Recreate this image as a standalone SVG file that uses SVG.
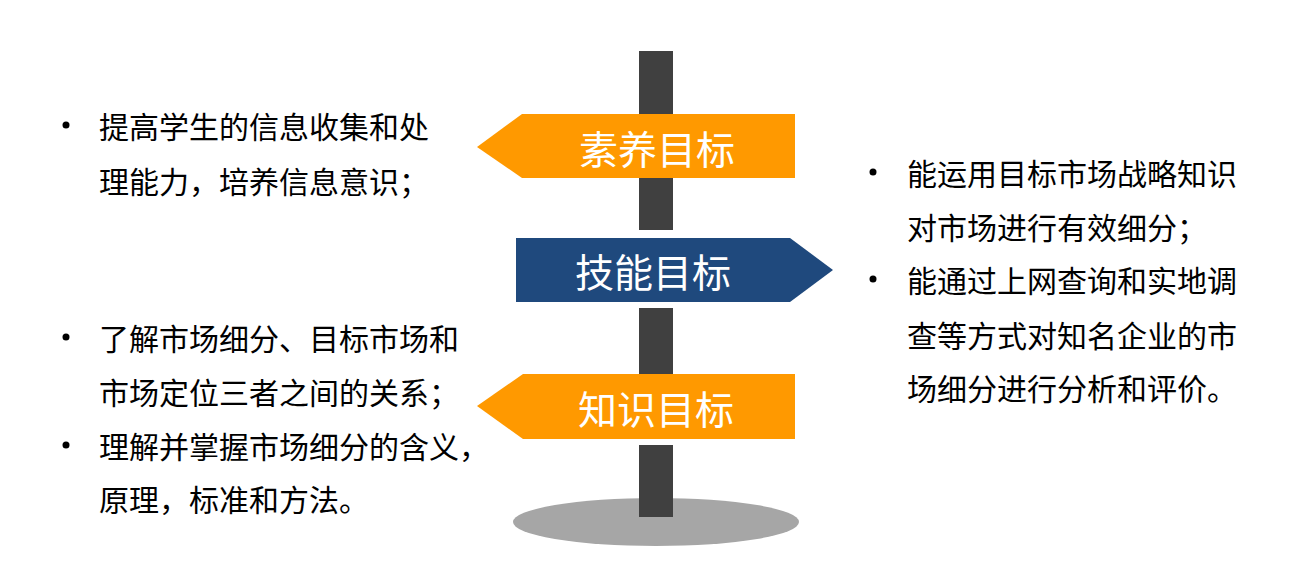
<svg xmlns="http://www.w3.org/2000/svg" width="1311" height="583" viewBox="0 0 1311 583">
<style>
.t{font-family:"Noto Sans CJK SC","Noto Sans",sans-serif;font-size:30px;fill:#000;dominant-baseline:central}
.s{font-family:"Noto Sans CJK SC","Noto Sans",sans-serif;font-size:39px;fill:#fff;dominant-baseline:central;text-anchor:middle}
.pole{fill:#404040}
.dot{fill:#000}
</style>
<rect width="1311" height="583" fill="#fff"/>
<g id="post">
<ellipse cx="656" cy="522" rx="143" ry="24" fill="#a6a6a6"/>
<rect class="pole" x="639" y="51" width="34" height="179"/>
<rect class="pole" x="639" y="308" width="34" height="66"/>
<rect class="pole" x="639" y="445" width="34" height="72"/>
</g>
<g id="sign-suyang">
<polygon points="477,147 522,114 795,114 795,178 522,178" fill="#ff9900"/>
<text class="s" x="657" y="147">素养目标</text>
</g>
<g id="sign-jineng">
<polygon points="516,238 790,238 833,270 790,302 516,302" fill="#1f497d"/>
<text class="s" x="653" y="270">技能目标</text>
</g>
<g id="sign-zhishi">
<polygon points="477,406 523,374 795,374 795,439 523,439" fill="#ff9900"/>
<text class="s" x="656" y="407">知识目标</text>
</g>
<g id="text-left">
<circle class="dot" cx="66" cy="125" r="3.5"/>
<text class="t" x="99" y="125">提高学生的信息收集和处</text>
<text class="t" x="99" y="180">理能力，培养信息意识；</text>
<circle class="dot" cx="66" cy="337" r="3.5"/>
<text class="t" x="99" y="337">了解市场细分、目标市场和</text>
<text class="t" x="99" y="391">市场定位三者之间的关系；</text>
<circle class="dot" cx="66" cy="445" r="3.5"/>
<text class="t" x="99" y="445">理解并掌握市场细分的含义，</text>
<text class="t" x="99" y="498">原理，标准和方法。</text>
</g>
<g id="text-right">
<circle class="dot" cx="873" cy="172" r="3.5"/>
<text class="t" x="907" y="172">能运用目标市场战略知识</text>
<text class="t" x="907" y="226">对市场进行有效细分；</text>
<circle class="dot" cx="873" cy="279" r="3.5"/>
<text class="t" x="907" y="279">能通过上网查询和实地调</text>
<text class="t" x="907" y="334">查等方式对知名企业的市</text>
<text class="t" x="907" y="387">场细分进行分析和评价。</text>
</g>
</svg>
